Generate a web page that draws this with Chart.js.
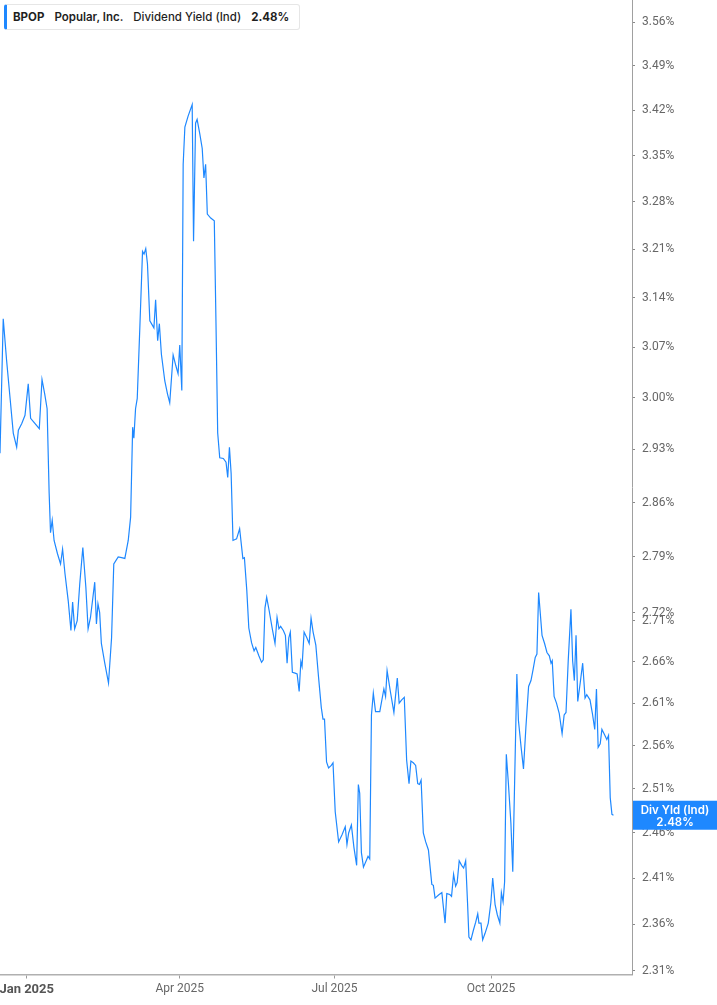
<!DOCTYPE html>
<html>
<head>
<meta charset="utf-8">
<script src="https://cdn.jsdelivr.net/npm/chart.js@4"></script>
<style>
  html, body { margin: 0; padding: 0; background: #fff; }
  #wrap { position: relative; width: 717px; height: 1005px; }
  #legend {
    position: absolute; left: 4px; top: 4px; height: 24px; width: 286px;
    background: #fff; border: 1px solid #e6e6e6; border-left: 3px solid #1e88ff;
    border-radius: 3px; font-family: Inter, "Noto Sans", sans-serif; font-size: 11.5px;
    color: #1f1f1f; line-height: 24px; padding-left: 6px; box-sizing: content-box; white-space: nowrap;
  }
  #legend span { margin-right: 10px; }
</style>
</head>
<body>
<div id="wrap">
  <canvas id="c"></canvas>
  <div id="legend"><span style="font-weight:700">BPOP</span><span style="font-weight:600">Popular, Inc.</span><span style="font-weight:500">Dividend Yield (Ind)</span><span style="font-weight:700">2.48%</span></div>
</div>
<script>
// days since 2025-01-01
const days = [-15.7,-13.8,-11.8,-9.8,-7.9,-5.9,-4.9,-2.9,-1.0,0.9,2.3,4.8,7.4,9.0,10.6,12.0,13.2,14.0,15.0,16.1,18.1,19.9,21.1,22.5,24.4,26.0,27.0,28.2,29.7,31.2,33.0,34.8,36.1,37.5,40.0,41.0,41.9,42.9,43.9,45.9,48.1,49.9,51.2,53.8,55.8,57.7,59.7,61.1,62.3,63.0,64.0,65.0,66.6,68.1,69.0,70.0,71.0,72.4,74.8,75.8,77.0,78.0,79.2,81.2,82.8,84.1,86.1,87.7,89.0,90.0,91.2,92.0,93.0,94.9,97.3,98.1,99.3,100.2,101.8,103.2,104.2,105.2,106.2,108.2,110.3,111.3,112.3,113.5,115.6,117.2,118.2,119.2,120.2,121.3,123.4,125.2,127.1,128.0,129.4,130.6,132.2,133.7,134.7,136.5,138.1,139.1,140.1,141.1,142.6,144.4,146.0,147.2,148.3,149.3,150.9,152.1,153.1,154.1,155.0,156.2,157.8,159.0,160.2,161.2,161.9,163.1,164.7,166.1,167.2,168.4,170.0,171.6,173.2,174.2,175.1,176.3,177.5,179.1,180.1,181.4,183.4,185.4,187.3,188.3,189.3,190.9,192.4,194.0,195.0,195.8,196.8,198.0,199.8,200.7,201.7,202.7,203.8,205.1,207.6,210.0,211.0,211.9,213.9,215.9,217.9,219.0,220.5,222.0,223.4,224.8,225.9,227.3,228.7,229.9,230.9,231.9,233.2,234.6,236.2,238.2,239.1,240.1,242.5,244.1,246.0,247.0,248.8,249.8,251.0,252.2,253.1,254.3,255.7,256.9,258.1,259.2,260.0,261.2,262.6,264.0,265.2,265.9,267.1,268.1,269.5,271.4,272.9,274.0,275.4,276.7,278.2,279.1,280.1,281.0,282.0,283.2,284.7,285.8,288.2,289.1,290.7,292.1,293.5,295.1,296.5,297.7,299.0,300.0,301.0,303.0,304.5,305.9,307.3,308.3,309.0,310.1,311.5,313.1,314.8,316.0,317.1,318.4,320.0,321.0,322.0,323.0,324.0,325.5,326.9,328.3,329.3,331.2,332.6,334.0,335.0,336.0,337.2,338.2,339.7,341.1,342.1,343.1,344.1,345.0];
// dividend yield, %
const yields = [2.925,3.110,3.051,3.000,2.952,2.933,2.956,2.965,2.976,3.019,2.972,2.965,2.958,3.025,3.005,2.985,2.872,2.821,2.837,2.811,2.794,2.781,2.800,2.769,2.735,2.698,2.733,2.700,2.710,2.756,2.802,2.751,2.700,2.714,2.758,2.706,2.731,2.720,2.682,2.658,2.634,2.689,2.781,2.790,2.789,2.788,2.811,2.841,2.960,2.945,2.985,2.999,3.103,3.207,3.203,3.211,3.189,3.107,3.097,3.137,3.079,3.103,3.060,3.023,3.005,2.993,3.059,3.044,3.033,3.073,3.010,3.337,3.394,3.411,3.429,3.222,3.400,3.406,3.383,3.361,3.316,3.337,3.262,3.256,3.252,3.103,2.952,2.919,2.918,2.913,2.893,2.933,2.898,2.811,2.813,2.826,2.788,2.789,2.748,2.701,2.683,2.673,2.677,2.667,2.659,2.662,2.726,2.739,2.722,2.700,2.682,2.714,2.700,2.703,2.698,2.692,2.658,2.689,2.696,2.647,2.646,2.645,2.624,2.660,2.654,2.696,2.689,2.682,2.713,2.696,2.680,2.641,2.605,2.591,2.591,2.541,2.534,2.537,2.540,2.484,2.450,2.458,2.467,2.447,2.460,2.469,2.444,2.424,2.515,2.505,2.438,2.422,2.430,2.434,2.431,2.596,2.622,2.600,2.600,2.627,2.618,2.649,2.623,2.599,2.640,2.610,2.614,2.617,2.543,2.516,2.542,2.540,2.537,2.516,2.515,2.520,2.460,2.450,2.441,2.403,2.402,2.388,2.392,2.394,2.361,2.393,2.392,2.390,2.414,2.401,2.405,2.429,2.424,2.421,2.429,2.383,2.346,2.343,2.353,2.362,2.371,2.361,2.361,2.343,2.350,2.361,2.383,2.410,2.381,2.370,2.361,2.394,2.384,2.406,2.550,2.517,2.471,2.417,2.645,2.590,2.558,2.533,2.581,2.630,2.637,2.650,2.665,2.669,2.745,2.692,2.682,2.671,2.667,2.658,2.661,2.618,2.610,2.598,2.574,2.596,2.599,2.661,2.724,2.661,2.637,2.692,2.612,2.635,2.658,2.616,2.620,2.614,2.598,2.579,2.627,2.558,2.562,2.579,2.573,2.567,2.572,2.500,2.481,2.480];
const yTicks = [3.56,3.49,3.42,3.35,3.28,3.21,3.14,3.07,3.00,2.93,2.86,2.79,2.72,2.71,2.66,2.61,2.56,2.51,2.46,2.41,2.36,2.31];
const xTickDays = [0, 90, 181, 273];
const xTickLabels = ['Jan 2025', 'Apr 2025', 'Jul 2025', 'Oct 2025'];
const lastLabel = 'Div Yld (Ind)';

const lineColor = '#1e88ff';
const pts = days.map((d, i) => ({ x: d, y: yields[i] }));

const lastValuePlugin = {
  id: 'lastValue',
  afterDraw(chart) {
    const ys = chart.scales.y;
    const v = yields[yields.length - 1];
    const py = ys.getPixelForValue(v);
    const ctx = chart.ctx;
    ctx.save();
    const left = ys.left + 1;
    const w = chart.width - left;
    ctx.fillStyle = lineColor;
    ctx.fillRect(left, py - 14.5, w, 29);
    ctx.fillStyle = '#fff';
    ctx.textAlign = 'center';
    ctx.textBaseline = 'middle';
    ctx.font = '600 11.5px Inter, "Noto Sans", sans-serif';
    ctx.fillText(lastLabel, left + w / 2, py - 5);
    ctx.fillText(v.toFixed(2) + '%', left + w / 2, py + 7);
    ctx.restore();
  }
};

new Chart(document.getElementById('c'), {
  type: 'line',
  data: {
    datasets: [{
      data: pts,
      borderColor: lineColor,
      borderWidth: 1.2,
      pointRadius: 0,
      tension: 0,
      fill: false
    }]
  },
  options: {
    responsive: true,
    maintainAspectRatio: false,
    animation: false,
    events: [],
    layout: { padding: 0 },
    plugins: { legend: { display: false }, tooltip: { enabled: false } },
    scales: {
      x: {
        type: 'linear',
        min: -15.7,
        max: 355.9,
        afterBuildTicks(scale) { scale.ticks = xTickDays.map(v => ({ value: v })); },
        afterFit(scale) { scale.height = 30.5; scale.paddingLeft = 0; scale.paddingRight = 0; },
        grid: { display: true, drawOnChartArea: false, drawTicks: true, tickLength: 4, color: '#9a9a9a', lineWidth: 1 },
        border: { display: true, color: '#b0b0b0', width: 1.5 },
        ticks: {
          autoSkip: false,
          maxRotation: 0,
          padding: 3,
          color: ctx => ctx.index === 0 ? '#555' : '#666',
          font: ctx => ctx.index === 0
            ? { family: 'Roboto, "Noto Sans", sans-serif', size: 13, weight: 'bold' }
            : { family: 'Roboto, "Noto Sans", sans-serif', size: 12 },
          callback: (v) => { const i = xTickDays.indexOf(v); return i >= 0 ? xTickLabels[i] : ''; }
        }
      },
      y: {
        type: 'logarithmic',
        position: 'right',
        min: 2.3063,
        max: 3.5964,
        afterBuildTicks(scale) { scale.ticks = yTicks.map(v => ({ value: v })); },
        afterFit(scale) { scale.width = 85; scale.paddingTop = 0; scale.paddingBottom = 0; },
        grid: { display: true, drawOnChartArea: false, drawTicks: true, tickLength: 3, color: '#888', lineWidth: 1 },
        border: { display: true, color: '#a0a0a0', width: 1 },
        ticks: {
          autoSkip: false,
          padding: 7,
          color: '#666',
          font: { family: 'Roboto, "Noto Sans", sans-serif', size: 12 },
          callback: (v) => Number(v).toFixed(2) + '%'
        }
      }
    }
  },
  plugins: [lastValuePlugin]
});
</script>
</body>
</html>
